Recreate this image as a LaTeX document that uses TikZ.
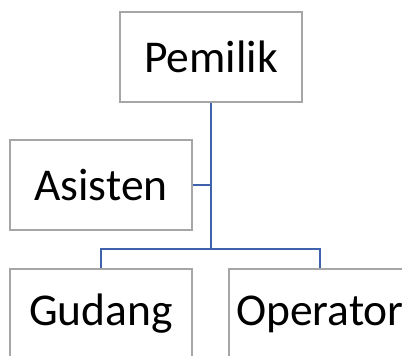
\documentclass[tikz,border=0pt]{standalone}
\usepackage{fontspec}
\setmainfont{Carlito}
\definecolor{boxgray}{RGB}{166,166,166}
\definecolor{linkblue}{RGB}{62,98,172}
\begin{document}
\begin{tikzpicture}[x=1pt,y=-1pt,
  orgbox/.style={draw=boxgray,line width=2.6pt,fill=white,minimum width=182pt,minimum height=90pt,inner sep=0pt,font=\fontsize{45.5}{50}\selectfont,text=black},
  link/.style={draw=linkblue,line width=2.6pt}]
\useasboundingbox (0,0) rectangle (402,356);
\node[orgbox] (pemilik) at (211,57) {Pemilik};
\node[orgbox] (asisten) at (101,185) {Asisten};
\node[orgbox] (gudang) at (101,314) {Gudang};
\node[orgbox] (operator) at (320,314) {Operator};
\coordinate (hub) at (pemilik.south |- 0,249);
\coordinate (side) at (pemilik.south |- asisten.east);
\draw[link] (pemilik.south) -- (hub);
\draw[link] (asisten.east) -- (side);
\draw[link] (hub) -| (gudang.north);
\draw[link] (hub) -| (operator.north);
\end{tikzpicture}
\end{document}
